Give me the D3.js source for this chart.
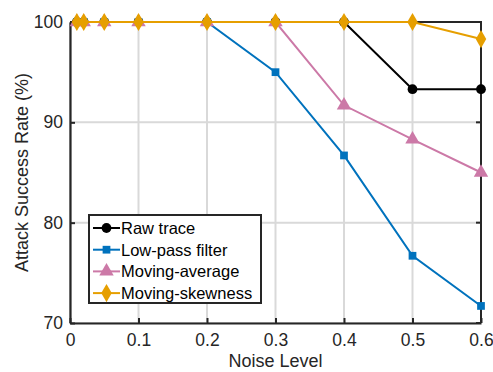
<!DOCTYPE html>
<html><head><meta charset="utf-8">
<script src="https://cdn.jsdelivr.net/npm/d3@7"></script>
<style>body{margin:0;background:#fff}svg{display:block}text{font-family:"Liberation Sans",Arial,sans-serif}</style>
</head><body><svg id="c" width="493" height="372"></svg>
<script>
const noise = [0.01, 0.02, 0.05, 0.1, 0.2, 0.3, 0.4, 0.5, 0.6];
const rawTrace = [100, 100, 100, 100, 100, 100, 100, 93.3, 93.3];
const lowPass = [100, 100, 100, 100, 100, 95, 86.7, 76.7, 71.7];
const movingAvg = [100, 100, 100, 100, 100, 100, 91.7, 88.3, 85];
const movingSkew = [100, 100, 100, 100, 100, 100, 100, 100, 98.3];
const seriesNames = ["Raw trace", "Low-pass filter", "Moving-average", "Moving-skewness"];
const xTicks = [0, 0.1, 0.2, 0.3, 0.4, 0.5, 0.6];
const yTicks = [70, 80, 90, 100];

const colors = ["#000000", "#0072BD", "#CC79A7", "#E69F00"];
const symbols = [d3.symbolCircle, d3.symbolSquare, d3.symbolTriangle, d3.symbolDiamond];
const symSizes = [75, 60, 90, 95];
const data = [rawTrace, lowPass, movingAvg, movingSkew];

const svg = d3.select("#c");
const L = 70, R = 481, T = 22, B = 323;
const x = d3.scaleLinear().domain([0, 0.6]).range([L, R]);
const y = d3.scaleLinear().domain([70, 100]).range([B, T]);

// grid
svg.append("g").selectAll("line").data(xTicks).join("line")
  .attr("x1", d => x(d)).attr("x2", d => x(d)).attr("y1", T).attr("y2", B)
  .attr("stroke", "#d9d9d9").attr("stroke-width", 2);
svg.append("g").selectAll("line").data(yTicks).join("line")
  .attr("x1", L).attr("x2", R).attr("y1", d => y(d)).attr("y2", d => y(d))
  .attr("stroke", "#d9d9d9").attr("stroke-width", 2);

// axes
const xAxis = d3.axisBottom(x).tickValues(xTicks).tickSizeInner(-5).tickSizeOuter(0).tickPadding(11).tickFormat(d => d === 0 ? "0" : d3.format(".1f")(d));
const yAxis = d3.axisLeft(y).tickValues(yTicks).tickSizeInner(-5).tickSizeOuter(0).tickPadding(7);
const gx = svg.append("g").attr("transform", `translate(0,${B})`).call(xAxis);
const gy = svg.append("g").attr("transform", `translate(${L},0)`).call(yAxis);
[gx, gy].forEach(g => {
  g.select(".domain").attr("stroke", "#262626").attr("stroke-width", 2.2);
  g.selectAll(".tick line").attr("stroke", "#262626").attr("stroke-width", 2);
  g.selectAll(".tick text").attr("fill", "#262626").style("font-size", "17.5px");
});
// right ticks
svg.append("g").selectAll("line").data(yTicks).join("line")
  .attr("x1", R).attr("x2", R - 5).attr("y1", d => y(d)).attr("y2", d => y(d))
  .attr("stroke", "#262626").attr("stroke-width", 2);
// top and right border
svg.append("path").attr("d", `M${L},${T}H${R}V${B}`).attr("fill", "none").attr("stroke", "#262626").attr("stroke-width", 2);

// series
const line = d3.line().x((d, i) => x(noise[i])).y(d => y(d));
data.forEach((vals, k) => {
  svg.append("path").datum(vals).attr("d", line).attr("fill", "none")
    .attr("stroke", colors[k]).attr("stroke-width", 2);
  svg.append("g").selectAll("path").data(vals).join("path")
    .attr("transform", (d, i) => `translate(${x(noise[i])},${y(d)})`)
    .attr("d", d3.symbol().type(symbols[k]).size(symSizes[k]))
    .attr("fill", colors[k]);
});

// axis titles
svg.append("text").attr("x", (L + R) / 2).attr("y", 367).attr("text-anchor", "middle")
  .attr("fill", "#262626").style("font-size", "18px").text("Noise Level");
svg.append("text").attr("transform", `translate(28,${(T + B) / 2}) rotate(-90)`).attr("text-anchor", "middle")
  .attr("fill", "#262626").style("font-size", "18px").text("Attack Success Rate (%)");

// legend
const lg = svg.append("g");
lg.append("rect").attr("x", 89).attr("y", 215).attr("width", 172).attr("height", 88)
  .attr("fill", "#fff").attr("stroke", "#262626").attr("stroke-width", 2);
seriesNames.forEach((name, k) => {
  const yy = 228 + k * 21.7;
  lg.append("line").attr("x1", 93).attr("x2", 120).attr("y1", yy).attr("y2", yy)
    .attr("stroke", colors[k]).attr("stroke-width", 2);
  lg.append("path").attr("transform", `translate(106.5,${yy})`)
    .attr("d", d3.symbol().type(symbols[k]).size(symSizes[k])).attr("fill", colors[k]);
  lg.append("text").attr("x", 121).attr("y", yy + 6).attr("fill", "#000")
    .style("font-size", "16.5px").text(name);
});
</script></body></html>
